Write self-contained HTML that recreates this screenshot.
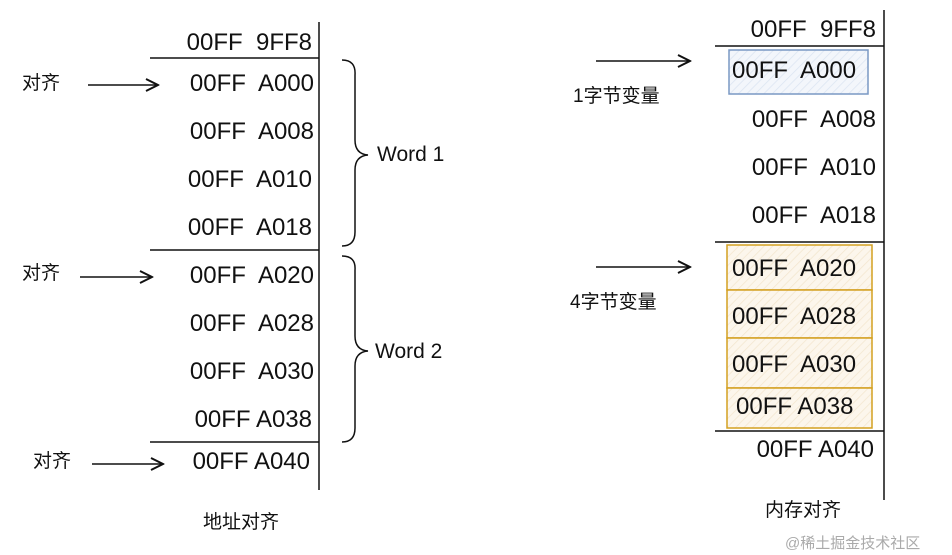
<html><head><style>
body{margin:0;width:952px;height:555px;background:#fff;position:relative;overflow:hidden;font-family:"Liberation Sans","Noto Sans CJK SC",sans-serif;}
.t{position:absolute;font-size:24px;color:#111;white-space:nowrap;line-height:1;}
.r{text-align:right;}
.c{position:absolute;font-size:19px;color:#111;white-space:nowrap;line-height:1;}
</style></head><body>
<svg width="952" height="555" style="position:absolute;left:0;top:0">
<defs><marker id="a" markerWidth="10" markerHeight="10" refX="9" refY="5" orient="auto"><path d="M1,1 L9,5 L1,9" fill="none" stroke="#111" stroke-width="1.3"/></marker>
<pattern id="hb" width="6" height="6" patternUnits="userSpaceOnUse" patternTransform="rotate(45)"><rect width="6" height="6" fill="#f3f6fb"/><line x1="0" y1="0" x2="0" y2="6" stroke="#dbe4f2" stroke-width="1.5"/></pattern>
<pattern id="ho" width="6" height="6" patternUnits="userSpaceOnUse" patternTransform="rotate(45)"><rect width="6" height="6" fill="#fcf6ec"/><line x1="0" y1="0" x2="0" y2="6" stroke="#f3e6cf" stroke-width="1.5"/></pattern></defs>
<g stroke="#111" stroke-width="1.5" fill="none">
<line x1="319" y1="22" x2="319" y2="490"/>
<line x1="150" y1="58" x2="319" y2="58"/>
<line x1="150" y1="250" x2="319" y2="250"/>
<line x1="150" y1="442" x2="319" y2="442"/>
<path d="M342,60 Q356,60 355,75 L355,140 Q355,154 368,155 Q355,156 355,170 L355,232 Q355,246 342,246"/>
<path d="M342,256 Q356,256 355,270 L355,336 Q355,350 368,351 Q355,352 355,366 L355,428 Q355,442 342,442"/>
<line x1="88" y1="85" x2="158" y2="85" marker-end="url(#a)"/>
<line x1="80" y1="277" x2="152" y2="277" marker-end="url(#a)"/>
<line x1="92" y1="464" x2="163" y2="464" marker-end="url(#a)"/>
<line x1="884" y1="10" x2="884" y2="500"/>
<line x1="715" y1="46" x2="884" y2="46"/>
<line x1="715" y1="242" x2="884" y2="242"/>
<line x1="715" y1="431" x2="884" y2="431"/>
<line x1="596" y1="61" x2="690" y2="61" marker-end="url(#a)"/>
<line x1="596" y1="267" x2="690" y2="267" marker-end="url(#a)"/>
</g>
<rect x="729" y="50" width="139" height="44" fill="url(#hb)" stroke="#7a98c4" stroke-width="1.5"/>
<g fill="url(#ho)" stroke="#d4a020" stroke-width="1.5">
<rect x="727" y="245" width="145" height="45"/>
<rect x="727" y="290" width="145" height="48"/>
<rect x="727" y="338" width="145" height="50"/>
<rect x="727" y="388" width="145" height="40"/>
</g>
</svg>
<div class="t r" style="right:640px;top:31px">00FF&nbsp; 9FF8</div>
<div class="t r" style="right:638px;top:72px">00FF&nbsp; A000</div>
<div class="t r" style="right:638px;top:120px">00FF&nbsp; A008</div>
<div class="t r" style="right:640px;top:168px">00FF&nbsp; A010</div>
<div class="t r" style="right:640px;top:216px">00FF&nbsp; A018</div>
<div class="t r" style="right:638px;top:264px">00FF&nbsp; A020</div>
<div class="t r" style="right:638px;top:312px">00FF&nbsp; A028</div>
<div class="t r" style="right:638px;top:360px">00FF&nbsp; A030</div>
<div class="t r" style="right:640px;top:408px">00FF A038</div>
<div class="t r" style="right:642px;top:450px">00FF A040</div>
<div class="t r" style="right:76px;top:18px">00FF&nbsp; 9FF8</div>
<div class="t" style="left:732px;top:59px">00FF&nbsp; A000</div>
<div class="t r" style="right:76px;top:108px">00FF&nbsp; A008</div>
<div class="t r" style="right:76px;top:156px">00FF&nbsp; A010</div>
<div class="t r" style="right:76px;top:204px">00FF&nbsp; A018</div>
<div class="t" style="left:732px;top:257px">00FF&nbsp; A020</div>
<div class="t" style="left:732px;top:305px">00FF&nbsp; A028</div>
<div class="t" style="left:732px;top:353px">00FF&nbsp; A030</div>
<div class="t" style="left:736px;top:395px">00FF A038</div>
<div class="t r" style="right:78px;top:438px">00FF A040</div>
<div class="c" style="left:377px;top:144px;font-size:21px">Word 1</div>
<div class="c" style="left:375px;top:341px;font-size:21px">Word 2</div>
<div class="c" style="left:22px;top:74px">对齐</div>
<div class="c" style="left:22px;top:264px">对齐</div>
<div class="c" style="left:33px;top:452px">对齐</div>
<div class="c" style="left:203px;top:513px">地址对齐</div>
<div class="c" style="left:573px;top:87px">1字节变量</div>
<div class="c" style="left:570px;top:293px">4字节变量</div>
<div class="c" style="left:765px;top:501px">内存对齐</div>
<div style="position:absolute;left:785px;top:532px;font-size:15px;color:#aaa;font-family:'Liberation Sans','Noto Sans CJK SC',sans-serif">@稀土掘金技术社区</div>
</body></html>
